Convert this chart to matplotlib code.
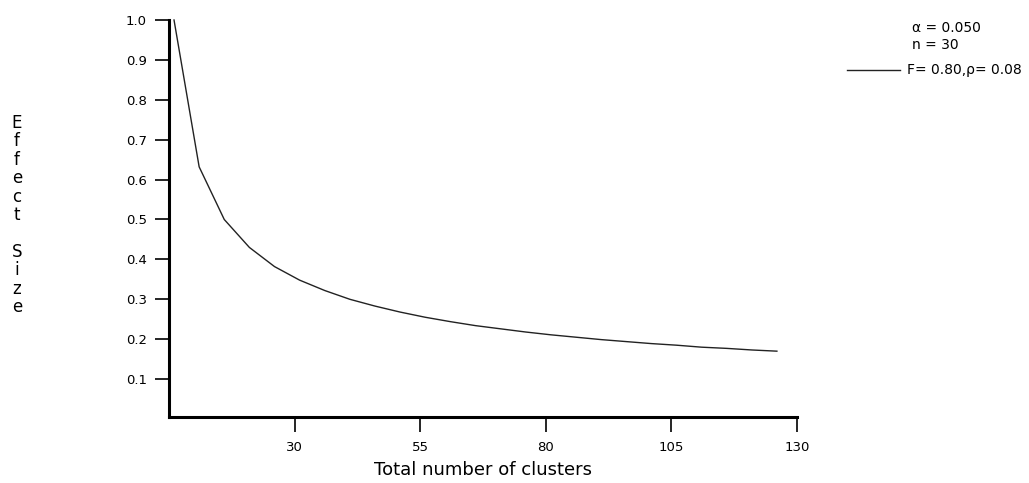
import matplotlib
matplotlib.use("Agg")
import matplotlib.pyplot as plt

plt.rcParams['font.family'] = ['DejaVu Sans']

# total number of clusters vs. detectable effect size
clusters = [6, 11, 16, 21, 26, 31, 36, 41, 46, 51, 56, 61, 66, 71, 76,
            81, 86, 91, 96, 101, 106, 111, 116, 121, 126]
effect = [1.000, 0.632, 0.500, 0.430, 0.382, 0.348, 0.322, 0.300, 0.283, 0.268, 0.255, 0.244,
          0.234, 0.226, 0.218, 0.211, 0.205, 0.199, 0.194, 0.189, 0.185, 0.180, 0.177, 0.173, 0.170]
x_ticks = [30, 55, 80, 105, 130]
y_ticks = [0.1, 0.2, 0.3, 0.4, 0.5, 0.6, 0.7, 0.8, 0.9, 1.0]

fig = plt.figure(figsize=(10.29, 4.83), dpi=100)
ax = fig.add_axes([169 / 1029, 66 / 483, 628 / 1029, 397 / 483])

ax.plot(clusters, effect, color='#222222', lw=1.0, clip_on=False)

ax.set_xlim(5, 130)
ax.set_ylim(0.005, 1.0)
ax.set_xticks(x_ticks)
ax.set_yticks(y_ticks)
ax.set_yticklabels(['%.1f' % v for v in y_ticks])

for s in ['top', 'right']:
    ax.spines[s].set_visible(False)
for s in ['left', 'bottom']:
    ax.spines[s].set_linewidth(2.2)
ax.tick_params(axis='y', length=10, width=1.2, labelsize=9.5, pad=6)
ax.tick_params(axis='x', length=11, width=1.2, labelsize=9.5, pad=6)

ax.set_xlabel('Total number of clusters', fontsize=13, labelpad=5)

# vertical stacked y label
fig.text(17 / 1029, 1 - 114 / 483, '\n'.join('Effect Size'),
         fontsize=12, ha='center', va='top', linespacing=1.03)

# legend block
fig.text(912 / 1029, 1 - 28 / 483, '\u03b1 = 0.050', fontsize=10, va='center')
fig.text(912 / 1029, 1 - 45 / 483, 'n = 30', fontsize=10, va='center')
fig.add_artist(plt.Line2D([847 / 1029, 900 / 1029], [1 - 70 / 483, 1 - 70 / 483],
                          color='#222222', lw=1.0))
fig.text(907 / 1029, 1 - 70 / 483, 'F= 0.80,\u03c1= 0.08', fontsize=10, va='center')

fig.savefig('out.png', dpi=100)
